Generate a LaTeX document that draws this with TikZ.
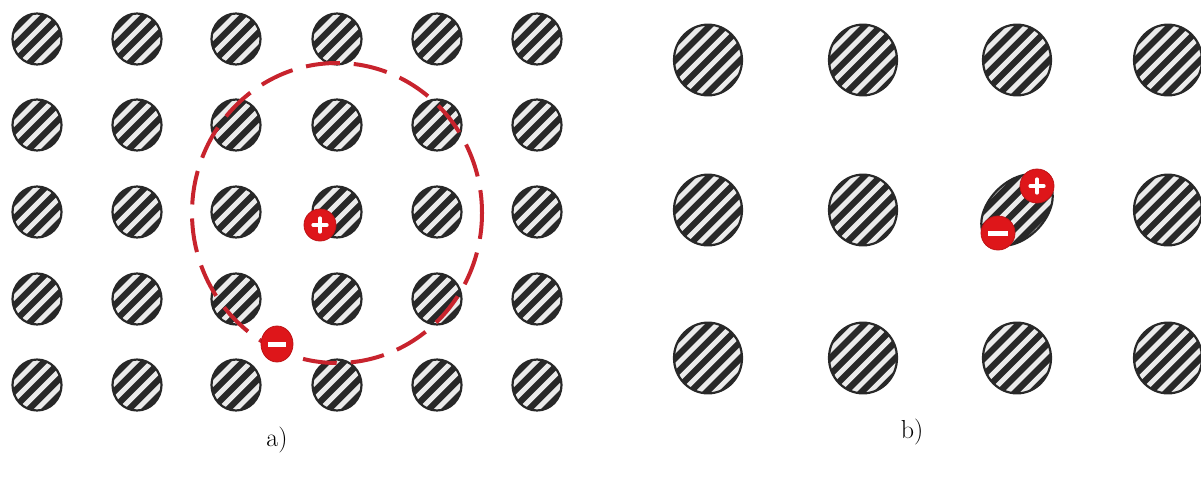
\documentclass[tikz,border=0pt]{standalone}
\usetikzlibrary{calc}
\definecolor{dashred}{RGB}{200,35,45}
\definecolor{chargered}{RGB}{222,22,26}
\definecolor{ink}{RGB}{40,40,40}

% hatched disc: centre x, centre y, radius, stripe period
\newcommand{\hatchdisc}[4]{%
  \begin{scope}
    \clip (#1,#2) ellipse [x radius=#3, y radius=#3*1.04];
    \fill[ink] (#1,#2) circle [radius=#3*1.2];
    \foreach \k in {-4.5,-3.5,...,4.5}
      \draw[white!92!black, line width=0.42*#4]
        ({#1+\k*#4*0.7071-80},{#2+\k*#4*0.7071+80}) --
        ({#1+\k*#4*0.7071+80},{#2+\k*#4*0.7071-80});
  \end{scope}
  \draw[ink, line width=2.2] (#1,#2) ellipse [x radius=#3, y radius=#3*1.04];
}

\tikzset{
  charge/.style={fill=chargered, draw=chargered!85!black, line width=0.8},
  sign/.style={white, line width=3.2, line cap=round},
  cloud/.style={dashred, line width=4, dash pattern=on 34pt off 14pt, dash phase=8pt},
  caption/.style={font=\fontsize{26}{30}\selectfont, inner sep=0pt}
}

\begin{document}
\begin{tikzpicture}[x=1pt, y=-1pt]
  \useasboundingbox (0,0) rectangle (1201,477);
  \fill[white] (0,0) rectangle (1201,477);

  % ---- panel a): dense lattice ----
  \foreach \r/\yy in {0/39,1/125,2/212,3/299,4/385}
    \foreach \c/\xx in {0/37,1/137,2/236,3/337,4/437,5/537}
      {\hatchdisc{\xx}{\yy}{24.5}{11.5}}

  % polarisation region
  \draw[cloud] (337,213) ellipse [x radius=145, y radius=150];

  % positive charge on a lattice site
  \fill[charge] (320,225) circle [radius=16];
  \draw[sign] (313,225) -- (327,225);
  \draw[sign] (320,218) -- (320,232);

  % electron on the boundary
  \fill[charge] (277,344) ellipse [x radius=16, y radius=18];
  \draw[sign, line width=5, line cap=butt] (268,344) -- (286,344);

  \node[caption] (labela) at (277,440) {a)};

  % ---- panel b): sparse lattice ----
  \foreach \yy in {60,210,358}
    \foreach \xx in {708,863,1017,1168}
      {\ifnum\xx=1017 \ifnum\yy=210 \else \hatchdisc{\xx}{\yy}{34}{11.5}\fi
       \else \hatchdisc{\xx}{\yy}{34}{11.5}\fi}

  % stretched (polarised) lattice site
  \begin{scope}
    \clip[rotate around={45:(1017,210)}] (1017,210) ellipse [x radius=42, y radius=28];
    \fill[ink] (1017,210) circle [radius=50];
    \foreach \k in {-4.5,-3.5,...,4.5}
      \draw[white!92!black, line width=4.8]
        ({1017+\k*11.5*0.7071-80},{210+\k*11.5*0.7071+80}) --
        ({1017+\k*11.5*0.7071+80},{210+\k*11.5*0.7071-80});
  \end{scope}
  \draw[ink, line width=2.2, rotate around={45:(1017,210)}] (1017,210) ellipse [x radius=42, y radius=28];

  % bound charges
  \fill[charge] (1037,186) circle [radius=17];
  \draw[sign] (1030,186) -- (1044,186);
  \draw[sign] (1037,179) -- (1037,193);

  \fill[charge] (998,233) circle [radius=17];
  \draw[sign, line width=5, line cap=butt] (988,233) -- (1008,233);

  \node[caption] (labelb) at (912,432) {b)};
\end{tikzpicture}
\end{document}
